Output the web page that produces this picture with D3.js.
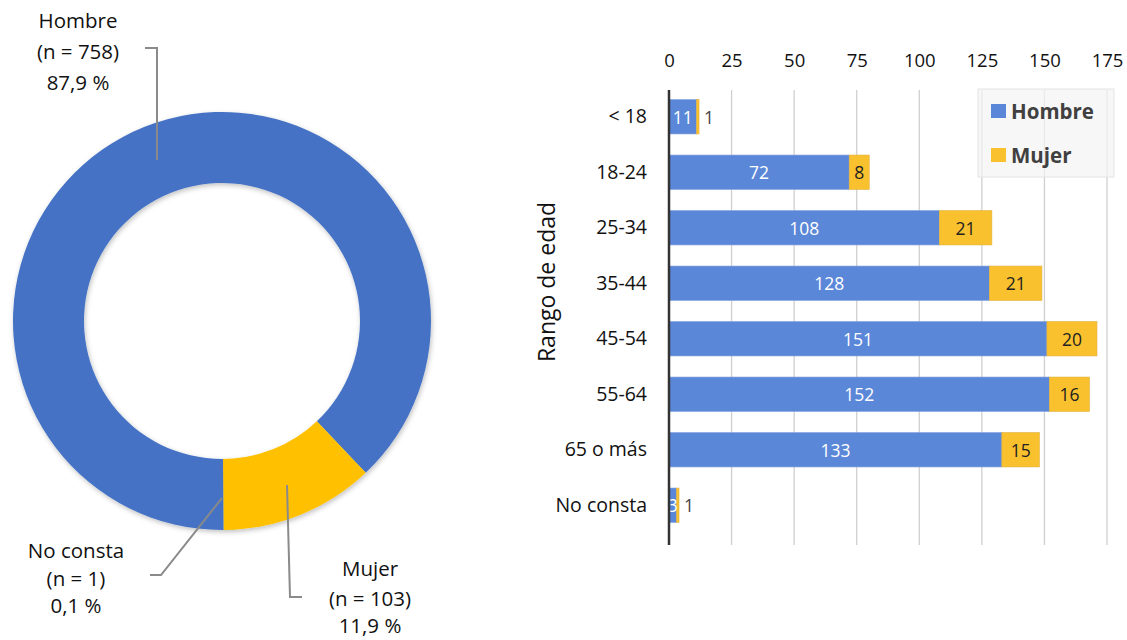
<!DOCTYPE html>
<html><head><meta charset="utf-8">
<script src="https://cdn.jsdelivr.net/npm/d3@7"></script>
<style>body{margin:0;background:#fff}svg{display:block;font-family:"Open Sans","Noto Sans",sans-serif}</style>
</head><body><svg id="c" width="1127" height="640"></svg>
<script>
const sexLabels = ["Hombre","Mujer","No consta"];
const sexCounts = [758,103,1];
const sexPct = ["87,9 %","11,9 %","0,1 %"];
const ageGroups = ["< 18","18-24","25-34","35-44","45-54","55-64","65 o más","No consta"];
const hombre = [11,72,108,128,151,152,133,3];
const mujer = [1,8,21,21,20,16,15,1];
const xTicks = [0,25,50,75,100,125,150,175];

const svg = d3.select("#c");
const donutBlue="#4472C4", donutYellow="#FFC000";
const barBlue="#5B87D8", barYellow="#FAC12E";

// Donut
const cx=222, cy=321, rOut=209, rIn=138;
const pie = d3.pie().sort(null).startAngle(Math.PI).endAngle(3*Math.PI);
const arcs = pie(sexCounts);
const arc = d3.arc().innerRadius(rIn).outerRadius(rOut);
const defs = svg.append("defs");
const f = defs.append("filter").attr("id","sh").attr("x","-20%").attr("y","-20%").attr("width","140%").attr("height","140%");
f.append("feDropShadow").attr("dx",1).attr("dy",2).attr("stdDeviation",2.5).attr("flood-color","#000").attr("flood-opacity",0.25);
const g = svg.append("g").attr("transform",`translate(${cx},${cy})`);
g.append("g").attr("filter","url(#sh)").selectAll("path").data(arcs).join("path")
  .attr("d",arc).attr("fill",(d,i)=>[donutBlue,donutYellow,donutBlue][i]);

const lbl = [
  {x:78, ys:[20,51,82], i:0},
  {x:370, ys:[568,598,625], i:1},
  {x:76, ys:[550,578,605], i:2}
];
lbl.forEach(l=>{
  const t=[sexLabels[l.i],`(n = ${sexCounts[l.i]})`,sexPct[l.i]];
  t.forEach((s,k)=>svg.append("text").attr("x",l.x).attr("y",l.ys[k]).attr("text-anchor","middle")
    .attr("dominant-baseline","central").attr("font-size",20.5).attr("fill","#111").text(s));
});
const leader = d3.line();
const lines = [
  [[145,48],[157,48],[157,160]],
  [[287,485],[290,597],[302,597]],
  [[150,575],[161,575],[222,498]]
];
lines.forEach(p=>svg.append("path").attr("d",leader(p)).attr("fill","none").attr("stroke","#8a8a8a").attr("stroke-width",2));

// Bars
const x = d3.scaleLinear().domain([0,175]).range([669,1107]);
const y = d3.scaleBand().domain(ageGroups).range([89,533]).paddingInner(0.38).paddingOuter(0.19);
const grid = svg.append("g");
grid.selectAll("line").data(xTicks.slice(1)).join("line")
  .attr("x1",d=>x(d)).attr("x2",d=>x(d)).attr("y1",90).attr("y2",545)
  .attr("stroke","#cfcfcf").attr("stroke-width",1.3);

// legend
const lg = svg.append("g");
lg.append("rect").attr("x",978).attr("y",89).attr("width",136).attr("height",88).attr("fill","#f4f4f4").attr("fill-opacity",0.7).attr("stroke","#e4e4e4");
[["Hombre",barBlue,111],["Mujer",barYellow,155]].forEach(([t,c,yy])=>{
  lg.append("rect").attr("x",991).attr("y",yy-7).attr("width",15).attr("height",14).attr("fill",c);
  lg.append("text").attr("x",1011).attr("y",yy).attr("dominant-baseline","central").attr("font-size",20.5).attr("font-weight","bold").attr("fill","#404040").text(t);
});

const axisTop = d3.axisTop(x).tickValues(xTicks).tickSize(0).tickPadding(0);
const ax = svg.append("g").attr("transform","translate(0,67)").call(axisTop);
ax.select(".domain").remove();
ax.selectAll("text").attr("font-size",18.5).attr("fill","#111").attr("font-family","'Open Sans',sans-serif");

const rows = svg.append("g").selectAll("g").data(ageGroups).join("g");
rows.append("rect").attr("x",x(0)).attr("y",d=>y(d)).attr("height",y.bandwidth())
  .attr("width",(d,i)=>x(hombre[i])-x(0)).attr("fill",barBlue).attr("stroke","#7f9fdc").attr("stroke-width",0.6);
rows.append("rect").attr("x",(d,i)=>x(hombre[i])).attr("y",d=>y(d)).attr("height",y.bandwidth())
  .attr("width",(d,i)=>x(hombre[i]+mujer[i])-x(hombre[i])).attr("fill",barYellow).attr("stroke","#e0b040").attr("stroke-width",0.6);
rows.append("text").attr("x",(d,i)=>(x(0)+x(hombre[i]))/2).attr("y",d=>y(d)+y.bandwidth()/2)
  .attr("text-anchor","middle").attr("dominant-baseline","central").attr("font-size",17.5).attr("fill","#fff").text((d,i)=>hombre[i]);
rows.append("text").attr("x",(d,i)=>{
    const w = x(hombre[i]+mujer[i])-x(hombre[i]);
    return w<10 ? x(hombre[i]+mujer[i])+10 : (x(hombre[i])+x(hombre[i]+mujer[i]))/2;
  }).attr("y",d=>y(d)+y.bandwidth()/2)
  .attr("text-anchor","middle").attr("dominant-baseline","central").attr("font-size",17.5)
  .attr("fill",(d,i)=> (x(hombre[i]+mujer[i])-x(hombre[i]))<10 ? "#444" : "#222").text((d,i)=>mujer[i]);

const axLeft = d3.axisLeft(y).tickSize(0).tickPadding(22);
const ay = svg.append("g").attr("transform",`translate(${x(0)},0)`).call(axLeft);
ay.select(".domain").remove();
ay.selectAll("text").attr("font-size",19.5).attr("fill","#111").attr("font-family","'Open Sans',sans-serif");
svg.append("line").attr("x1",x(0)).attr("x2",x(0)).attr("y1",90).attr("y2",545).attr("stroke","#333").attr("stroke-width",2.5);

svg.append("text").attr("transform","translate(546,282) rotate(-90)").attr("text-anchor","middle")
  .attr("dominant-baseline","central").attr("font-size",23).attr("fill","#111").text("Rango de edad");
</script></body></html>
